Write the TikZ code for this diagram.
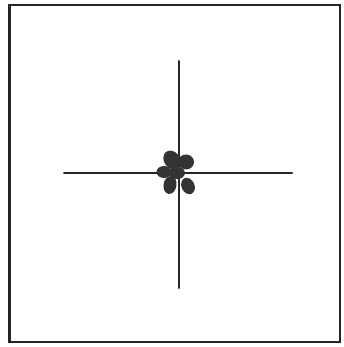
\documentclass[tikz,border=0pt]{standalone}
\usepackage{tikz}

\begin{document}
\begin{tikzpicture}[x=1pt,y=-1pt,line cap=round]
\useasboundingbox (0,0) rectangle (343,347);
\draw[black!85,line width=2.4pt] (9.5,5) rectangle (340,342);
\draw[black!85,line width=2pt] (178.5,61) -- (178.5,288);
\draw[black!85,line width=2pt] (64,173) -- (292,173);
% petals round the crossing
\fill[black!80,rotate around={35:(172,160)}] (172,160) ellipse (8pt and 10pt);
\fill[black!80] (186,162) ellipse (8pt and 7.5pt);
\fill[black!80] (164,172) ellipse (7.5pt and 6pt);
\fill[black!80] (177,173) ellipse (8pt and 6pt);
\fill[black!80,rotate around={-10:(170,185)}] (170,185) ellipse (6.5pt and 9pt);
\fill[black!80,rotate around={25:(188,186)}] (188,186) ellipse (6.5pt and 8.5pt);
\end{tikzpicture}
\end{document}
